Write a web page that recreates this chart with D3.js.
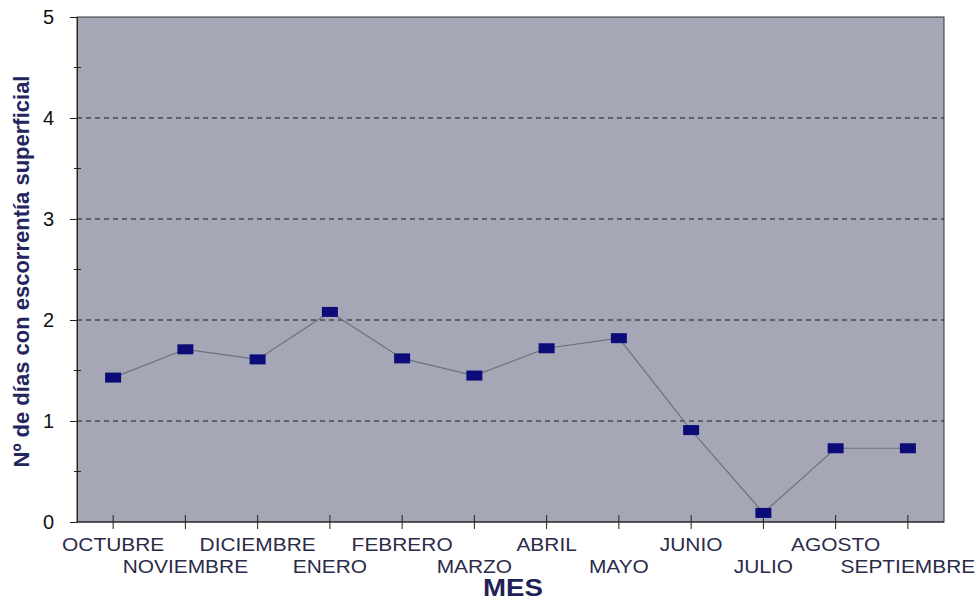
<!DOCTYPE html>
<html>
<head>
<meta charset="utf-8">
<script src="https://cdn.jsdelivr.net/npm/d3@7"></script>
<style>
  html, body { margin: 0; padding: 0; background: #ffffff; }
  svg { display: block; font-family: "Liberation Sans", Arial, sans-serif; }
</style>
</head>
<body>
<svg id="chart" width="979" height="603"></svg>
<script>
// Monthly number of days with surface runoff (hydrological year, Oct–Sep)
const months = ["OCTUBRE", "NOVIEMBRE", "DICIEMBRE", "ENERO", "FEBRERO", "MARZO",
                "ABRIL", "MAYO", "JUNIO", "JULIO", "AGOSTO", "SEPTIEMBRE"];
const dias = [1.43, 1.71, 1.61, 2.08, 1.62, 1.45, 1.72, 1.82, 0.91, 0.09, 0.73, 0.73];
const yTicks = [0, 1, 2, 3, 4, 5];
const yMinorTicks = [0.5, 1.5, 2.5, 3.5, 4.5];
const yTitle = "Nº de días con escorrentía superficial";
const xTitle = "MES";

const svg = d3.select("#chart");
const plot = { left: 77, top: 17, right: 944, bottom: 522 };

const x = d3.scaleBand().domain(months).range([plot.left, plot.right]).padding(0);
const y = d3.scaleLinear().domain([0, 5]).range([plot.bottom, plot.top]);
const cx = d => x(d) + x.bandwidth() / 2;

// plot area background
svg.append("rect")
  .attr("x", plot.left).attr("y", plot.top)
  .attr("width", plot.right - plot.left).attr("height", plot.bottom - plot.top)
  .attr("fill", "#a5a7b7")
  .attr("stroke", "#333").attr("stroke-width", 1);

// dashed horizontal gridlines
svg.append("g").selectAll("line")
  .data(yTicks.filter(t => t > 0 && t < 5))
  .join("line")
  .attr("x1", plot.left).attr("x2", plot.right)
  .attr("y1", d => y(d)).attr("y2", d => y(d))
  .attr("stroke", "#1a1a1a").attr("stroke-width", 1)
  .attr("stroke-dasharray", "5,4");

// left axis with integer labels
const yAxis = d3.axisLeft(y).tickValues(yTicks).tickSize(7).tickPadding(16).tickFormat(d3.format("d"));
const gy = svg.append("g").attr("transform", `translate(${plot.left},0)`).call(yAxis);
gy.select(".domain").attr("stroke", "#222");
gy.selectAll(".tick line").attr("stroke", "#222");
gy.selectAll(".tick text").attr("font-size", 20).attr("fill", "#111");

// minor ticks on the left axis
svg.append("g").selectAll("line")
  .data(yMinorTicks)
  .join("line")
  .attr("x1", plot.left - 3).attr("x2", plot.left + 4)
  .attr("y1", d => y(d)).attr("y2", d => y(d))
  .attr("stroke", "#222");

// bottom axis: ticks at category centres
const gx = svg.append("g").attr("transform", `translate(0,${plot.bottom})`);
gx.append("line")
  .attr("x1", plot.left).attr("x2", plot.right)
  .attr("stroke", "#222");
gx.selectAll("line.tk")
  .data(months)
  .join("line").attr("class", "tk")
  .attr("x1", d => cx(d)).attr("x2", d => cx(d))
  .attr("y1", -7).attr("y2", 7)
  .attr("stroke", "#222");

// category labels in two staggered rows (slightly widened lettering)
svg.append("g").selectAll("text")
  .data(months)
  .join("text")
  .attr("transform", (d, i) => `translate(${cx(d)},${i % 2 === 0 ? 551 : 573}) scale(1.1,1)`)
  .attr("text-anchor", "middle")
  .attr("font-size", 19)
  .attr("fill", "#2a2b48")
  .text(d => d);

// connecting line
svg.append("path")
  .datum(months.map((m, i) => [cx(m), y(dias[i])]))
  .attr("d", d3.line())
  .attr("fill", "none")
  .attr("stroke", "#6e707c")
  .attr("stroke-width", 1.2);

// square markers
svg.append("g").selectAll("rect")
  .data(months.map((m, i) => ({ m, v: dias[i] })))
  .join("rect")
  .attr("x", d => cx(d.m) - 8)
  .attr("y", d => y(d.v) - 5)
  .attr("width", 16).attr("height", 10)
  .attr("fill", "#0c0c78");

// axis titles
svg.append("text")
  .attr("transform", `translate(29,${(plot.top + plot.bottom) / 2 + 2}) rotate(-90)`)
  .attr("text-anchor", "middle")
  .attr("font-size", 22).attr("font-weight", "bold")
  .attr("fill", "#23265e")
  .text(yTitle);

svg.append("text")
  .attr("transform", "translate(513,596) scale(1.2,1)")
  .attr("text-anchor", "middle")
  .attr("font-size", 23).attr("font-weight", "bold")
  .attr("fill", "#1f2258")
  .text(xTitle);
</script>
</body>
</html>
